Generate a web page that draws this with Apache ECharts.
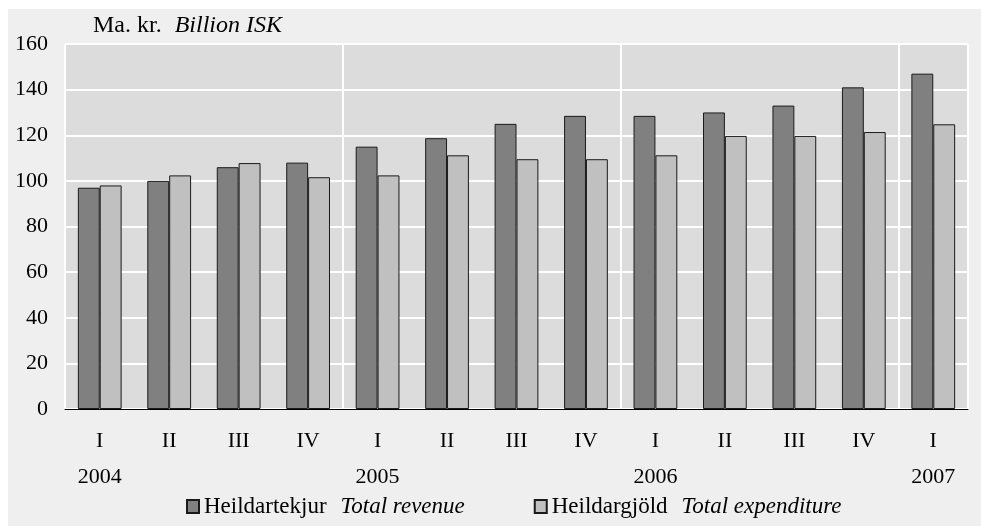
<!DOCTYPE html>
<html>
<head>
<meta charset="utf-8">
<script src="https://cdn.jsdelivr.net/npm/echarts@6/dist/echarts.min.js"></script>
<style>
  html, body { margin: 0; padding: 0; background: #fff; }
  #chart { width: 981px; height: 526px; }
</style>
</head>
<body>
<div id="chart"></div>
<script>
// ársfjórðungar / quarters
const quarters = ['I', 'II', 'III', 'IV', 'I', 'II', 'III', 'IV', 'I', 'II', 'III', 'IV', 'I']
const years = ['2004', '', '', '', '2005', '', '', '', '2006', '', '', '', '2007']
// Heildartekjur - Total revenue
const revenue = [97, 100, 106, 108, 115, 118.7, 125, 128.5, 128.5, 130, 133, 141, 147]
// Heildargjöld - Total expenditure
const expenditure = [98, 102.4, 107.8, 101.6, 102.4, 111.2, 109.5, 109.5, 111.2, 119.7, 119.7, 121.4, 124.8]

const serif = "'Liberation Serif', 'Times New Roman', serif"

let myChart = echarts.init(document.getElementById('chart'))
let option = {
  backgroundColor: '#ffffff',
  animation: false,
  textStyle: { fontFamily: serif, color: '#000' },
  graphic: [
    {
      type: 'rect',
      z: -10,
      shape: { x: 8, y: 9, width: 973, height: 517 },
      style: { fill: '#efefef' }
    },
    {
      type: 'text',
      left: 93,
      top: 14,
      style: {
        text: '{a|Ma. kr.}{g|}{b|Billion ISK}',
        rich: {
          a: { fontFamily: serif, fontSize: 24, fill: '#000' },
          g: { width: 13 },
          b: { fontFamily: serif, fontSize: 24, fontStyle: 'italic', fill: '#000' }
        }
      }
    }
  ],
  grid: {
    left: 65,
    right: 13,
    top: 44,
    bottom: 117,
    show: true,
    backgroundColor: '#dcdcdc',
    borderWidth: 0
  },
  legend: {
    left: 186,
    top: 495,
    padding: 0,
    icon: 'rect',
    itemWidth: 12,
    itemHeight: 13,
    itemGap: 69,
    data: ['rev', 'exp'],
    formatter: function (name) {
      return name === 'rev'
        ? '{a|Heildartekjur}{g|}{b|Total revenue}'
        : '{a|Heildargjöld}{g|}{b|Total expenditure}'
    },
    textStyle: {
      rich: {
        a: { fontFamily: serif, fontSize: 23, color: '#000' },
        g: { width: 14 },
        b: { fontFamily: serif, fontSize: 23, fontStyle: 'italic', color: '#000' }
      }
    }
  },
  xAxis: {
    type: 'category',
    data: quarters,
    boundaryGap: true,
    axisLine: { lineStyle: { color: '#000', width: 1 } },
    axisTick: { show: false },
    axisLabel: {
      interval: 0,
      margin: 14,
      fontFamily: serif,
      fontSize: 22,
      color: '#000',
      lineHeight: 36,
      formatter: function (value, index) {
        return value + '\n' + (years[index] || ' ')
      }
    },
    splitLine: {
      show: true,
      interval: function (index) { return index % 4 === 0 },
      lineStyle: { color: '#ffffff', width: 2 }
    }
  },
  yAxis: {
    type: 'value',
    min: 0,
    max: 160,
    interval: 20,
    axisLine: { show: false },
    axisTick: { show: false },
    axisLabel: { margin: 17, fontFamily: serif, fontSize: 22, color: '#000' },
    splitLine: { lineStyle: { color: '#ffffff', width: 2 } }
  },
  series: [
    {
      name: 'rev',
      type: 'bar',
      data: revenue,
      barGap: '0%',
      barCategoryGap: '37%',
      itemStyle: { color: '#808080', borderColor: '#1a1a1a', borderWidth: 1 }
    },
    {
      name: 'exp',
      type: 'bar',
      data: expenditure,
      itemStyle: { color: '#c0c0c0', borderColor: '#1a1a1a', borderWidth: 1 }
    }
  ]
}
myChart.setOption(option)
</script>
</body>
</html>
